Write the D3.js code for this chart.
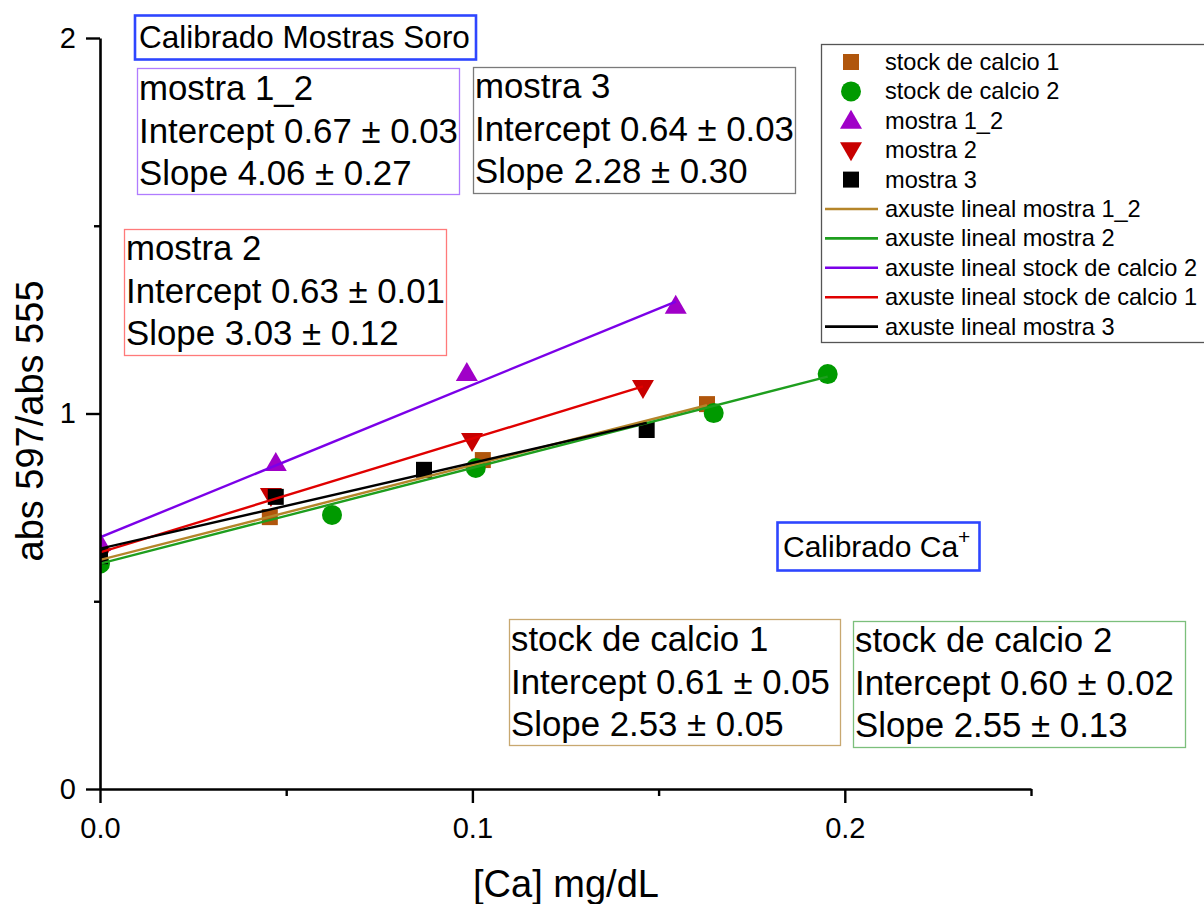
<!DOCTYPE html>
<html>
<head>
<meta charset="utf-8">
<script src="https://cdn.jsdelivr.net/npm/d3@7"></script>
<style>
  body { margin: 0; background: #fff; }
  svg { display: block; font-family: "Liberation Sans", Arial, sans-serif; }
</style>
</head>
<body>
<svg id="chart" width="1204" height="904"></svg>
<script>
// ── Data ────────────────────────────────────────────────────────────────────
const stock1X = [0, 0.0456, 0.1028, 0.163];
const stock1Y = [0.61, 0.724, 0.876, 1.025];
const stock2X = [0, 0.0623, 0.1009, 0.1648, 0.1954];
const stock2Y = [0.60, 0.730, 0.855, 1.001, 1.105];
const m12X    = [0, 0.0472, 0.0985, 0.1546];
const m12Y    = [0.655, 0.868, 1.108, 1.287];
const m2X     = [0, 0.0459, 0.0999, 0.1458];
const m2Y     = [0.62, 0.780, 0.927, 1.068];
const m3X     = [0, 0.0472, 0.087, 0.1468];
const m3Y     = [0.62, 0.778, 0.850, 0.956];

// linear fit end points [x0, x1] / [y0, y1]
const fitStock1X = [0, 0.163],  fitStock1Y = [0.61, 1.022];
const fitStock2X = [0, 0.1954], fitStock2Y = [0.60, 1.098];
const fitM12X    = [0, 0.1546], fitM12Y    = [0.67, 1.298];
const fitM2X     = [0, 0.1458], fitM2Y     = [0.63, 1.072];
const fitM3X     = [0, 0.1468], fitM3Y     = [0.64, 0.975];

const xTicks = [0, 0.1, 0.2];
const xMinor = [0.05, 0.15, 0.25];
const yTicks = [0, 1, 2];
const yMinor = [0.5, 1.5];

const legendLabels = [
  'stock de calcio 1', 'stock de calcio 2', 'mostra 1_2', 'mostra 2', 'mostra 3',
  'axuste lineal mostra 1_2', 'axuste lineal mostra 2', 'axuste lineal stock de calcio 2',
  'axuste lineal stock de calcio 1', 'axuste lineal mostra 3'
];

const boxM12    = ['mostra 1_2', 'Intercept 0.67 ± 0.03', 'Slope 4.06 ± 0.27'];
const boxM3     = ['mostra 3', 'Intercept 0.64 ± 0.03', 'Slope 2.28 ± 0.30'];
const boxM2     = ['mostra 2', 'Intercept 0.63 ± 0.01', 'Slope 3.03 ± 0.12'];
const boxStock1 = ['stock de calcio 1', 'Intercept 0.61 ± 0.05', 'Slope 2.53 ± 0.05'];
const boxStock2 = ['stock de calcio 2', 'Intercept 0.60 ± 0.02', 'Slope 2.55 ± 0.13'];

// ── Setup ───────────────────────────────────────────────────────────────────
const svg = d3.select('#chart');
const x = d3.scaleLinear().domain([0, 0.25]).range([100, 1031]);
const y = d3.scaleLinear().domain([0, 2]).range([789, 38]);

const FONT_TICK = 29, FONT_TITLE = 38;

const scatter = [
  { xs: stock1X, ys: stock1Y, shape: 'square',   color: '#B0560C' },
  { xs: stock2X, ys: stock2Y, shape: 'circle',   color: '#009A00' },
  { xs: m12X,    ys: m12Y,    shape: 'triUp',    color: '#A000C8' },
  { xs: m2X,     ys: m2Y,     shape: 'triDown',  color: '#C80000' },
  { xs: m3X,     ys: m3Y,     shape: 'square',   color: '#000000' },
];
const fits = [
  { xs: fitStock1X, ys: fitStock1Y, color: '#B5852A' },
  { xs: fitStock2X, ys: fitStock2Y, color: '#1E9E1E' },
  { xs: fitM12X,    ys: fitM12Y,    color: '#7B00E8' },
  { xs: fitM2X,     ys: fitM2Y,     color: '#E00000' },
  { xs: fitM3X,     ys: fitM3Y,     color: '#000000' },
];

function markerPath(shape) {
  if (shape === 'square')  return 'M-8,-8H8V8H-8Z';
  if (shape === 'circle')  return d3.symbol(d3.symbolCircle, Math.PI * 100)();
  if (shape === 'triUp')   return 'M0,-11L11,8L-11,8Z';
  return 'M0,11L11,-8L-11,-8Z';
}

svg.append('defs').append('clipPath').attr('id', 'plot-clip')
  .append('rect').attr('x', 100).attr('y', 30).attr('width', 940).attr('height', 760);

const plot = svg.append('g').attr('clip-path', 'url(#plot-clip)');

// ── Scatter points ──────────────────────────────────────────────────────────
scatter.forEach(s => {
  plot.append('g').selectAll('path')
    .data(s.xs.map((v, i) => [v, s.ys[i]]))
    .join('path')
    .attr('d', markerPath(s.shape))
    .attr('transform', d => `translate(${x(d[0])},${y(d[1])})`)
    .attr('fill', s.color);
});

// ── Fit lines ───────────────────────────────────────────────────────────────
const line = d3.line().x(d => x(d[0])).y(d => y(d[1]));
fits.forEach(f => {
  plot.append('path')
    .datum(f.xs.map((v, i) => [v, f.ys[i]]))
    .attr('d', line)
    .attr('fill', 'none')
    .attr('stroke', f.color)
    .attr('stroke-width', 2.4);
});

// ── Axes ────────────────────────────────────────────────────────────────────
svg.append('g').attr('transform', `translate(0,${y(0)})`)
  .call(d3.axisBottom(x).tickValues(xTicks).tickFormat(d3.format('.1f'))
    .tickSize(14).tickSizeOuter(0).tickPadding(14));
svg.append('g').attr('transform', `translate(0,${y(0)})`)
  .call(d3.axisBottom(x).tickValues(xMinor).tickFormat('').tickSize(7).tickSizeOuter(0))
  .select('.domain').remove();

svg.append('g').attr('transform', `translate(${x(0)},0)`)
  .call(d3.axisLeft(y).tickValues(yTicks).tickFormat(d3.format('d'))
    .tickSize(14).tickSizeOuter(0).tickPadding(10));
svg.append('g').attr('transform', `translate(${x(0)},0)`)
  .call(d3.axisLeft(y).tickValues(yMinor).tickFormat('').tickSize(6).tickSizeOuter(0))
  .select('.domain').remove();

svg.selectAll('.domain').attr('stroke', '#000').attr('stroke-width', 2.6);
svg.selectAll('.tick line').attr('stroke', '#000').attr('stroke-width', 2.4);
svg.selectAll('.tick text')
  .style('font-family', '"Liberation Sans", Arial, sans-serif')
  .style('font-size', FONT_TICK + 'px').attr('fill', '#000');

// axis titles
svg.append('text')
  .attr('x', 566).attr('y', 897)
  .attr('text-anchor', 'middle')
  .style('font-size', FONT_TITLE + 'px')
  .text('[Ca] mg/dL');
svg.append('text')
  .attr('transform', 'translate(43,421) rotate(-90)')
  .attr('text-anchor', 'middle')
  .style('font-size', FONT_TITLE + 'px')
  .text('abs 597/abs 555');

// ── Annotation boxes ────────────────────────────────────────────────────────
function statBox(lines, bx, by, bw, bh, stroke, base0) {
  const g = svg.append('g');
  g.append('rect')
    .attr('x', bx).attr('y', by).attr('width', bw).attr('height', bh)
    .attr('fill', '#fff').attr('stroke', stroke).attr('stroke-width', 1.3);
  lines.forEach((t, i) => {
    g.append('text')
      .attr('x', bx + 1.5).attr('y', base0 + i * 42.7)
      .style('font-size', '34.8px').attr('fill', '#000')
      .text(t);
  });
}
statBox(boxM12,    137.5, 68.5,  322, 126, '#B07CFF', 100);
statBox(boxM3,     473.5, 67.5,  322, 126, '#7A7A7A', 98);
statBox(boxM2,     124.5, 229.5, 322, 126, '#FF7A7A', 260);
statBox(boxStock1, 509.5, 619.5, 331, 126, '#C8A870', 651);
statBox(boxStock2, 853.5, 621.5, 332, 126, '#7CBF7C', 652);

// title boxes
svg.append('rect')
  .attr('x', 135).attr('y', 15.5).attr('width', 341).attr('height', 44)
  .attr('fill', '#fff').attr('stroke', '#2E46FF').attr('stroke-width', 2.6);
svg.append('text')
  .attr('x', 139).attr('y', 48).style('font-size', '31.5px')
  .text('Calibrado Mostras Soro');

svg.append('rect')
  .attr('x', 777.5).attr('y', 522.5).attr('width', 202).attr('height', 48)
  .attr('fill', '#fff').attr('stroke', '#2E46FF').attr('stroke-width', 2.6);
const caText = svg.append('text')
  .attr('x', 783).attr('y', 557).style('font-size', '30px');
caText.append('tspan').text('Calibrado Ca');
caText.append('tspan').attr('dy', -13).style('font-size', '21px').text('+');

// ── Legend ──────────────────────────────────────────────────────────────────
const legend = svg.append('g');
legend.append('rect')
  .attr('x', 821.5).attr('y', 44.5).attr('width', 400).attr('height', 298)
  .attr('fill', '#fff').attr('stroke', '#555').attr('stroke-width', 1.3);

const legendItems = legendLabels.map((label, i) => {
  if (i < 5) return { label, kind: 'marker', shape: scatter[i].shape, color: scatter[i].color };
  return { label, kind: 'line', color: fits[i - 5].color };
});
legendItems.forEach((it, i) => {
  const base = 70 + i * 29.4;
  const cy = base - 8;
  if (it.kind === 'marker') {
    legend.append('path')
      .attr('d', markerPath(it.shape))
      .attr('transform', `translate(851,${cy})`)
      .attr('fill', it.color);
  } else {
    legend.append('line')
      .attr('x1', 825).attr('x2', 878).attr('y1', cy).attr('y2', cy)
      .attr('stroke', it.color).attr('stroke-width', 2.6);
  }
  legend.append('text')
    .attr('x', 885).attr('y', base)
    .style('font-size', '23.6px')
    .text(it.label);
});
</script>
</body>
</html>
